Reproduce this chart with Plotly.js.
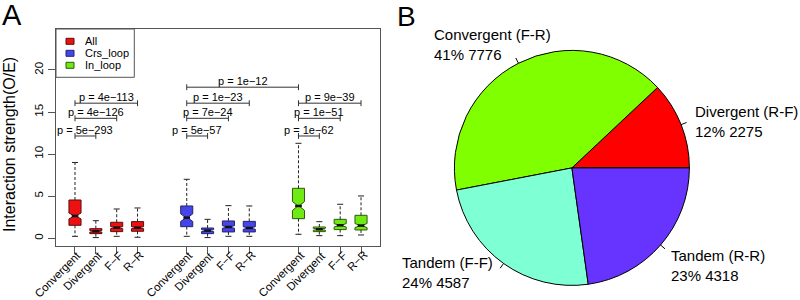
<!DOCTYPE html>
<html><head><meta charset="utf-8">
<script src="https://cdn.plot.ly/plotly-3.0.1.min.js"></script>
<style>html,body{margin:0;padding:0;background:#fff}#chart{width:800px;height:300px}</style>
</head><body><div id="chart"></div>
<script>
// ---------- data ----------
const groups = ['All', 'Crs_loop', 'In_loop'];
const categories = ['Convergent', 'Divergent', 'F\u2212F', 'R\u2212R'];

const allLower  = [0.22, 0.07, 0.22, 0.11];
const allQ1     = [1.53, 0.54, 0.78, 0.82];
const allMedian = [2.64, 0.82, 1.25, 1.25];
const allQ3     = [4.54, 1.13, 1.89, 1.97];
const allUpper  = [9.00, 2.08, 3.47, 3.59];
const allNotch  = [0.35, 0.10, 0.12, 0.12];

const crsLower  = [0.22, 0.07, 0.22, 0.22];
const crsQ1     = [1.37, 0.54, 0.74, 0.74];
const crsMedian = [2.44, 0.90, 1.33, 1.21];
const crsQ3     = [3.83, 1.21, 2.05, 2.00];
const crsUpper  = [7.00, 2.24, 3.87, 3.83];
const crsNotch  = [0.45, 0.12, 0.15, 0.15];

const inLower   = [0.46, 0.30, 0.30, 0.38];
const inQ1      = [2.32, 0.78, 1.02, 0.98];
const inMedian  = [3.83, 1.06, 1.53, 1.50];
const inQ3      = [5.93, 1.33, 2.24, 2.72];
const inUpper   = [11.28, 1.96, 4.03, 5.02];
const inNotch   = [0.53, 0.12, 0.20, 0.24];

// p-value brackets: box index (group*4 + category) from / to, level, label
const pLabels = ['p = 5e\u2212293', 'p = 4e\u2212126', 'p = 4e\u2212113',
                 'p = 5e\u221257', 'p = 7e\u221224', 'p = 1e\u221223', 'p = 1e\u221212',
                 'p = 1e\u221262', 'p = 1e\u221251', 'p = 9e\u221239'];
const pFrom   = [0, 0, 0, 4, 4, 4, 4, 8, 8, 8];
const pTo     = [1, 2, 3, 5, 6, 7, 8, 9, 10, 11];
const pLevel  = [12.15, 14.25, 16.05, 12.15, 14.25, 16.05, 17.95, 12.15, 14.25, 16.05];

// pie
const pieLabels = ['Divergent (R-F)', 'Convergent (F-R)', 'Tandem (F-F)', 'Tandem (R-R)'];
const pieCounts = [2275, 7776, 4587, 4318];

// ---------- styles ----------
const groupFill = ['#EE1111', '#4545EA', '#6FEA12'];
const groupLine = ['#5A0E0E', '#24246E', '#2E5A0C'];
const pieColors = ['#FF0000', '#7FFF00', '#7FFFD4', '#6633FF'];

const lowers = [allLower, crsLower, inLower];
const q1s = [allQ1, crsQ1, inQ1];
const medians = [allMedian, crsMedian, inMedian];
const q3s = [allQ3, crsQ3, inQ3];
const uppers = [allUpper, crsUpper, inUpper];
const notches = [allNotch, crsNotch, inNotch];

const GROUP_GAP = 5.36;
const BOX_W = 0.58;
const NOTCH_W = 0.45;
const pos = (g, c) => g * GROUP_GAP + c + 1;
const posIdx = i => pos(Math.floor(i / 4), i % 4);

const traces = [];
const W = 800, H = 300;

// whiskers (dashed)
groups.forEach((g, gi) => {
  const x = [], y = [];
  categories.forEach((c, ci) => {
    const p = pos(gi, ci);
    x.push(p, p, null, p, p, null);
    y.push(q3s[gi][ci], uppers[gi][ci], null, q1s[gi][ci], lowers[gi][ci], null);
  });
  traces.push({type: 'scatter', mode: 'lines', x, y, showlegend: false, hoverinfo: 'skip',
    line: {color: '#222', width: 1, dash: '3px,2px'}});
});
// caps
groups.forEach((g, gi) => {
  const x = [], y = [];
  categories.forEach((c, ci) => {
    const p = pos(gi, ci), h = BOX_W / 4;
    x.push(p - h, p + h, null, p - h, p + h, null);
    y.push(uppers[gi][ci], uppers[gi][ci], null, lowers[gi][ci], lowers[gi][ci], null);
  });
  traces.push({type: 'scatter', mode: 'lines', x, y, showlegend: false, hoverinfo: 'skip',
    line: {color: '#222', width: 1}});
});
// boxes
groups.forEach((g, gi) => {
  traces.push({
    type: 'box', name: g, showlegend: false,
    x: categories.map((c, ci) => pos(gi, ci)),
    q1: q1s[gi], median: medians[gi], q3: q3s[gi],
    lowerfence: q1s[gi], upperfence: q3s[gi],
    notched: true, notchspan: notches[gi], notchwidth: NOTCH_W,
    width: BOX_W, whiskerwidth: 0,
    fillcolor: groupFill[gi], line: {color: groupLine[gi], width: 1},
    boxpoints: false, hoverinfo: 'skip'
  });
});
// thick medians
groups.forEach((g, gi) => {
  const x = [], y = [];
  categories.forEach((c, ci) => {
    const p = pos(gi, ci), h = BOX_W / 2 * (1 - NOTCH_W);
    x.push(p - h, p + h, null);
    y.push(medians[gi][ci], medians[gi][ci], null);
  });
  traces.push({type: 'scatter', mode: 'lines', x, y, showlegend: false, hoverinfo: 'skip',
    line: {color: '#111', width: 2.5}});
});
// brackets
{
  const x = [], y = [], t = 0.35;
  pLabels.forEach((lab, i) => {
    const a = posIdx(pFrom[i]), b = posIdx(pTo[i]), lv = pLevel[i];
    x.push(a, b, null, a, a, null, b, b, null);
    y.push(lv, lv, null, lv - t, lv + t, null, lv - t, lv + t, null);
  });
  traces.push({type: 'scatter', mode: 'lines', x, y, showlegend: false, hoverinfo: 'skip',
    line: {color: '#333', width: 1}});
}
// pie
const PIE_CX = 571.9, PIE_CY = 167.9, PIE_R = 117.5;
const total = pieCounts.reduce((s, v) => s + v, 0);
const firstDeg = pieCounts[0] / total * 360;
traces.push({
  type: 'pie', values: pieCounts, labels: pieLabels, sort: false,
  direction: 'counterclockwise', rotation: 90 - firstDeg,
  marker: {colors: pieColors, line: {color: '#000', width: 1}},
  textinfo: 'none', hoverinfo: 'skip', showlegend: false,
  domain: {x: [(PIE_CX - PIE_R) / W, (PIE_CX + PIE_R) / W],
           y: [(H - PIE_CY - PIE_R) / H, (H - PIE_CY + PIE_R) / H]}
});

// ---------- annotations / shapes ----------
const FONT = 'Liberation Sans, Arial, Helvetica, sans-serif';
const annotations = [];
const shapes = [];
const px = v => v / W, py = v => 1 - v / H;

pLabels.forEach((lab, i) => {
  annotations.push({xref: 'x', yref: 'y', x: (posIdx(pFrom[i]) + posIdx(pTo[i])) / 2, y: pLevel[i],
    text: lab, showarrow: false, yanchor: 'bottom', yshift: -2,
    font: {family: FONT, size: 11, color: '#000'}});
});

// rotated category labels under the ticks
groups.forEach((g, gi) => {
  categories.forEach((c, ci) => {
    annotations.push({xref: 'x', yref: 'paper', x: pos(gi, ci), y: py(247.5), xshift: 10,
      xanchor: 'right', yanchor: 'top', textangle: -45, text: c, showarrow: false, borderpad: 0,
      font: {family: FONT, size: 11.4, color: '#000'}});
  });
});

// legend (drawn manually)
shapes.push({type: 'rect', xref: 'paper', yref: 'paper', x0: px(56), x1: px(134.3), y0: py(77.3), y1: py(29),
  line: {color: '#555', width: 1}, fillcolor: '#fff'});
groups.forEach((g, gi) => {
  const cy = 41.3 + gi * 12;
  shapes.push({type: 'rect', xref: 'paper', yref: 'paper', x0: px(66), x1: px(74), y0: py(cy + 3), y1: py(cy - 3),
    line: {color: groupLine[gi], width: 1}, fillcolor: groupFill[gi]});
  annotations.push({xref: 'paper', yref: 'paper', x: px(83), y: py(cy), xanchor: 'left', yanchor: 'middle',
    text: g, showarrow: false, font: {family: FONT, size: 11, color: '#000'}});
});

// pie label ticks
{
  let cum = 0;
  pieCounts.forEach((v, i) => {
    const mid = (cum + v / 2) / total * 2 * Math.PI;
    cum += v;
    const c = Math.cos(mid), s = Math.sin(mid);
    shapes.push({type: 'line', xref: 'paper', yref: 'paper',
      x0: px(PIE_CX + PIE_R * c), y0: py(PIE_CY - PIE_R * s),
      x1: px(PIE_CX + 1.05 * PIE_R * c), y1: py(PIE_CY - 1.05 * PIE_R * s),
      line: {color: '#000', width: 1}});
  });
}
// pie labels
const pieLabelPos = [[693.3, 121.7], [431.7, 44.3], [400, 272.9], [669.3, 265.8]];
pieCounts.forEach((v, i) => {
  const pct = Math.round(v / total * 100);
  annotations.push({xref: 'paper', yref: 'paper', x: px(pieLabelPos[i][0]), y: py(pieLabelPos[i][1]),
    xanchor: 'left', yanchor: 'middle', align: 'left', showarrow: false,
    text: pieLabels[i] + '<br>' + pct + '% ' + v,
    font: {family: FONT, size: 15, color: '#000'}});
});

// panel letters and y title
annotations.push({xref: 'paper', yref: 'paper', x: px(0), y: py(15), xanchor: 'left', yanchor: 'middle',
  text: 'A', showarrow: false, font: {family: FONT, size: 29, color: '#000'}});
annotations.push({xref: 'paper', yref: 'paper', x: px(395), y: py(16), xanchor: 'left', yanchor: 'middle',
  text: 'B', showarrow: false, font: {family: FONT, size: 28, color: '#000'}});
annotations.push({xref: 'paper', yref: 'paper', x: px(9), y: py(145), xanchor: 'center', yanchor: 'middle',
  text: 'Interaction strength(O/E)', textangle: -90, showarrow: false,
  font: {family: FONT, size: 16, color: '#000'}});

const layout = {
  width: W, height: H,
  margin: {l: 0, r: 0, t: 0, b: 0},
  paper_bgcolor: '#fff', plot_bgcolor: '#fff',
  showlegend: false,
  boxmode: 'overlay',
  font: {family: FONT, color: '#000'},
  xaxis: {
    domain: [px(56), px(380)], range: [0.089, 15.63],
    tickvals: groups.flatMap((g, gi) => categories.map((c, ci) => pos(gi, ci))),
    showticklabels: false, ticks: 'outside', ticklen: 7, tickcolor: '#555',
    showline: true, mirror: true, linecolor: '#555', linewidth: 1,
    showgrid: false, zeroline: false, fixedrange: true
  },
  yaxis: {
    domain: [1 - 246 / H, 1 - 29 / H], range: [-0.93, 24.87],
    tickvals: [0, 5, 10, 15, 20], ticktext: ['0', '5', '10', '15', '20'],
    tickangle: -90, ticks: 'outside', ticklen: 7, tickcolor: '#555',
    tickfont: {family: FONT, size: 11.5, color: '#000'},
    showline: true, mirror: true, linecolor: '#555', linewidth: 1,
    showgrid: false, zeroline: false, fixedrange: true
  },
  annotations, shapes
};

Plotly.newPlot('chart', traces, layout, {displayModeBar: false, staticPlot: true});
</script>
</body></html>
